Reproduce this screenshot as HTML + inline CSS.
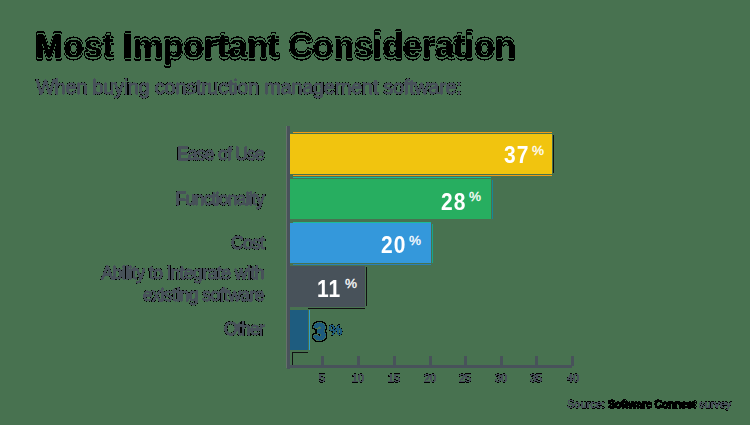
<!DOCTYPE html>
<html><head><meta charset="utf-8">
<style>
html,body{margin:0;padding:0;}
body{width:750px;height:425px;position:relative;overflow:hidden;background:#487250;font-family:"Liberation Sans",sans-serif;}
.a{position:absolute;white-space:nowrap;line-height:1;}
#title{left:35px;top:28px;font-size:34px;font-weight:bold;color:#000;transform-origin:0 0;transform:scale(0.994,1.03);-webkit-text-stroke:1.3px #000;filter:url(#ringT);}
#sub{left:36px;top:77px;font-size:20px;color:#48525a;letter-spacing:-0.3px;-webkit-text-stroke:0.8px #48525a;filter:url(#ringS);}
.lbl{position:absolute;left:0;width:264px;font-size:17.5px;color:#48525a;text-align:right;white-space:nowrap;line-height:22px;letter-spacing:-0.75px;-webkit-text-stroke:1px #48525a;filter:url(#ringS);}
.bar{position:absolute;left:290px;height:40px;}
.ln{position:absolute;height:1px;}
.val{position:absolute;font-size:21px;font-weight:bold;color:#fff;line-height:1;letter-spacing:1px;transform:scaleY(1.13);transform-origin:0 80%;}
.pct{position:absolute;font-size:13.5px;color:#fff;line-height:1;-webkit-text-stroke:0.3px #fff;}
#axis{position:absolute;left:287px;top:126px;width:3px;height:243px;background:#48525a;}
#xaxis{position:absolute;left:287px;top:365px;width:285px;height:3px;background:#48525a;}
.tick{position:absolute;top:356px;width:2.5px;height:10px;background:#48525a;}
.tl{position:absolute;top:373px;font-size:11px;color:#48525a;width:30px;text-align:center;line-height:1;-webkit-text-stroke:0.5px #48525a;filter:url(#ringS);}
#foot{-webkit-text-stroke:0.5px #48525a;filter:url(#ringS);left:567px;top:399px;font-size:11px;color:#48525a;line-height:1;}
#foot b{color:#000;letter-spacing:-0.35px;-webkit-text-stroke:0.6px #000;}
</style></head><body>
<svg width="0" height="0" style="position:absolute;left:0;top:0">
<filter id="ringT" x="-5%" y="-40%" width="110%" height="180%" color-interpolation-filters="sRGB">
<feGaussianBlur in="SourceAlpha" stdDeviation="0.8" result="b"/>
<feComponentTransfer in="b" result="coreA"><feFuncA type="discrete" tableValues="0 0 0 0 0 0 0 0 0 0 0 0 0 0 0 0 0 1 1 1"/></feComponentTransfer>
<feComposite in="SourceGraphic" in2="coreA" operator="in" result="core"/>
<feComponentTransfer in="b" result="ringA"><feFuncA type="discrete" tableValues="0 1 1 1 1 1 1 1 0 0 0 0 0 0 0 0 0 0 0 0"/></feComponentTransfer>
<feMerge><feMergeNode in="ringA"/><feMergeNode in="core"/></feMerge>
</filter>
<filter id="ringS" x="-5%" y="-40%" width="110%" height="180%" color-interpolation-filters="sRGB">
<feGaussianBlur in="SourceAlpha" stdDeviation="0.75" result="b"/>
<feComponentTransfer in="b" result="coreA"><feFuncA type="discrete" tableValues="0 0 0 0 0 0 0 0 0 1 1 1 1 1 1 1 1 1 1 1"/></feComponentTransfer>
<feComposite in="SourceGraphic" in2="coreA" operator="in" result="core0"/>
<feComponentTransfer in="core0" result="core"><feFuncA type="linear" slope="3"/></feComponentTransfer>
<feComponentTransfer in="b" result="ringA"><feFuncA type="discrete" tableValues="0 1 1 1 1 1 0 0 0 0 0 0 0 0 0 0 0 0 0 0"/></feComponentTransfer>
<feMerge><feMergeNode in="ringA"/><feMergeNode in="core"/></feMerge>
</filter>
</svg>
<div id="title" class="a">Most Important Consideration</div>
<div id="sub" class="a">When buying construction management software:</div>

<div class="lbl" style="top:143px">Ease of Use</div>
<div class="lbl" style="top:188px">Functionality</div>
<div class="lbl" style="top:232px">Cost</div>
<div class="lbl" style="top:262px;letter-spacing:-0.5px">Ability to integrate with</div>
<div class="lbl" style="top:284px;letter-spacing:-0.55px">existing software</div>
<div class="lbl" style="top:318px">Other</div>

<div class="bar" style="top:134px;width:262px;background:#f1c40f;"></div>
<div class="ln" style="left:293px;top:132px;width:259px;background:#f39c12"></div>
<div class="ln" style="left:293px;top:175px;width:259px;background:#f39c12"></div>
<div class="ln" style="left:553px;top:135px;width:1.2px;height:38px;background:#111"></div>
<div class="bar" style="top:179px;width:201px;background:#27ae60;"></div>
<div class="ln" style="left:293px;top:177px;width:198px;background:#1abc9c"></div>
<div class="ln" style="left:492px;top:180px;width:1.2px;height:39px;background:#16879a"></div>
<div class="bar" style="top:223px;width:141px;background:#3498db;"></div>
<div class="ln" style="left:293px;top:264px;width:138px;background:#2980b9"></div>
<div class="ln" style="left:293px;top:221.5px;width:138px;background:#1abc9c"></div>
<div class="ln" style="left:432px;top:224px;width:1.2px;height:39px;background:#17a589"></div>
<div class="bar" style="top:266px;width:75px;height:41px;background:#48525a;"></div>
<div class="ln" style="left:366px;top:267px;width:1.2px;height:39px;background:#111"></div>
<div class="ln" style="left:292px;top:352px;width:16px;height:1px;background:#111"></div>
<div class="ln" style="left:308px;top:308px;width:57px;height:1px;background:#111"></div>
<div class="bar" style="top:310px;width:18px;height:40px;background:#1e5c7f;"></div>
<div class="ln" style="left:309px;top:310px;width:1.2px;height:40px;background:#2a9fd6"></div>

<div class="val" style="left:504px;top:145px">37</div><div class="pct" style="left:532px;top:144px">%</div>
<div class="val" style="left:441px;top:192px">28</div><div class="pct" style="left:469px;top:190px">%</div>
<div class="val" style="left:381px;top:235px">20</div><div class="pct" style="left:409px;top:234px">%</div>
<div class="val" style="left:317px;top:279px">11</div><div class="pct" style="left:345px;top:277px">%</div>
<div class="val" style="left:313px;top:322px;color:#1e5c7f;font-size:21px;transform:scale(1.12,1.14);transform-origin:0 80%;-webkit-text-stroke:0.8px #1e5c7f;filter:url(#ringS)">3</div><div class="pct" style="left:329px;top:322px;color:#1e5c7f;font-size:15px;-webkit-text-stroke:0.6px #1e5c7f;filter:url(#ringS)">%</div>

<div id="axis"></div>
<div id="xaxis"></div>
<div class="ln" style="left:292px;top:352px;width:1px;height:13px;background:#111"></div>
<div class="ln" style="left:286px;top:126px;width:1px;height:242px;background:#66706c"></div>
<div class="tick" style="left:321px"></div>
<div class="tick" style="left:357px"></div>
<div class="tick" style="left:393px"></div>
<div class="tick" style="left:429px"></div>
<div class="tick" style="left:464px"></div>
<div class="tick" style="left:500px"></div>
<div class="tick" style="left:535px"></div>
<div class="tick" style="left:571px"></div>
<div class="tl" style="left:307px">5</div>
<div class="tl" style="left:343px">10</div>
<div class="tl" style="left:379px">15</div>
<div class="tl" style="left:415px">20</div>
<div class="tl" style="left:450px">25</div>
<div class="tl" style="left:486px">30</div>
<div class="tl" style="left:521px">35</div>
<div class="tl" style="left:558px">40</div>

<div id="foot" class="a">Source: <b>Software Connect</b> survey</div>
</body></html>
